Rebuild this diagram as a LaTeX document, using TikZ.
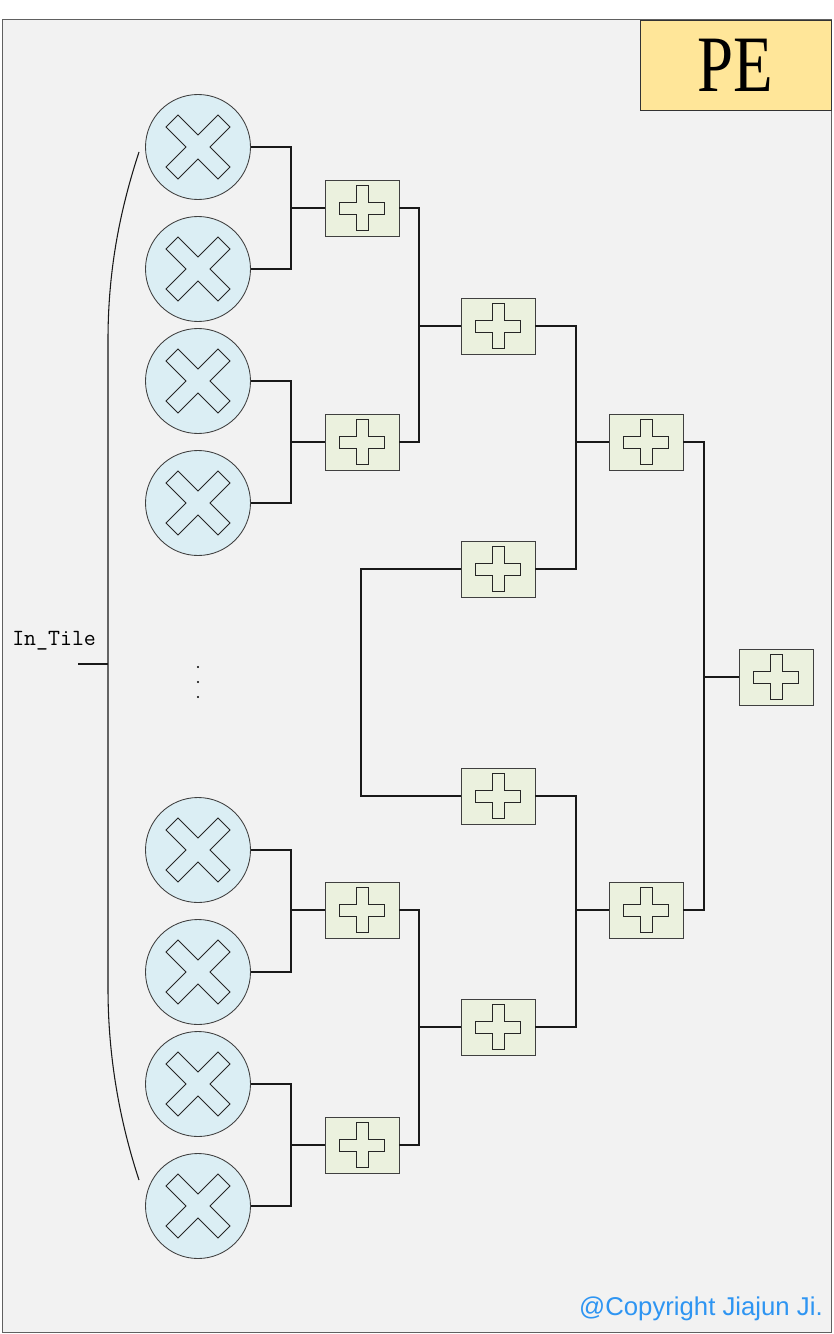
\documentclass[tikz,border=0pt]{standalone}
\usepackage{fontspec}
\usepackage{graphicx}
\newfontfamily\pefont{Liberation Serif}
\newfontfamily\cpfont{Liberation Sans}
\definecolor{bgfill}{HTML}{F2F2F2}
\definecolor{mulfill}{HTML}{DBEEF4}
\definecolor{addfill}{HTML}{EBF1DE}
\definecolor{pefill}{HTML}{FFE699}
\definecolor{cpblue}{HTML}{2E95F2}
\definecolor{framegray}{HTML}{606060}
\begin{document}
\begin{tikzpicture}[x=0.75pt,y=-0.75pt,
  mul/.style={circle, draw=black!75, fill=mulfill, line width=0.65pt, minimum size=78.75pt, inner sep=0pt},
  add/.style={rectangle, draw=black!75, fill=addfill, line width=0.65pt, minimum width=55.5pt, minimum height=42pt, inner sep=0pt},
  glyph/.style={draw=black!85, line width=0.65pt},
  wire/.style={draw=black!90, line width=0.8pt},
]
\useasboundingbox (0,0) rectangle (833,1334);
\fill[white] (0,0) rectangle (833,1334);
\draw[fill=bgfill, draw=framegray, line width=0.75pt] (2,20) rectangle (831,1332);
\node[draw=black!80, fill=pefill, line width=0.6pt, minimum width=143.25pt, minimum height=67.5pt, inner sep=0pt] (pe) at (735.5,65) {\pefont\fontsize{60}{60}\selectfont\scalebox{0.81}[1]{PE}};

% multipliers
\foreach \n/\y in {m1/147,m2/269,m3/381,m4/503,m5/850,m6/972,m7/1084,m8/1206}{
  \node[mul] (\n) at (198,\y) {};
  \draw[glyph, shift={(\n.center)}] (0,-12) -- (20,-32) -- (32,-20) -- (12,0) -- (32,20) -- (20,32) -- (0,12) -- (-20,32) -- (-32,20) -- (-12,0) -- (-32,-20) -- (-20,-32) -- cycle;
}
% adders
\foreach \n/\x/\y in {a1/362/208,a2/362/442,a3/362/910,a4/362/1145,b1/498/326,b2/498/569,b3/498/796,b4/498/1027,c1/646/442,c2/646/910,d1/776/677}{
  \node[add] (\n) at (\x,\y) {};
  \draw[glyph, shift={(\n.center)}] (-6,-22.5) -- (6,-22.5) -- (6,-6) -- (22.5,-6) -- (22.5,6) -- (6,6) -- (6,22.5) -- (-6,22.5) -- (-6,6) -- (-22.5,6) -- (-22.5,-6) -- (-6,-6) -- cycle;
}

% junctions
\coordinate (j1) at (291,208);
\coordinate (j2) at (291,442);
\coordinate (j3) at (291,910);
\coordinate (j4) at (291,1145);
\coordinate (k1) at (419,326);
\coordinate (k2) at (419,1027);
\coordinate (l1) at (576,442);
\coordinate (l2) at (576,910);
\coordinate (n1) at (704,677);
\coordinate (lp) at (361,682);

\draw[wire] (m1.east) -| (j1) |- (m2.east); \draw[wire] (j1) -- (a1.west);
\draw[wire] (m3.east) -| (j2) |- (m4.east); \draw[wire] (j2) -- (a2.west);
\draw[wire] (m5.east) -| (j3) |- (m6.east); \draw[wire] (j3) -- (a3.west);
\draw[wire] (m7.east) -| (j4) |- (m8.east); \draw[wire] (j4) -- (a4.west);
\draw[wire] (a1.east) -| (k1) |- (a2.east); \draw[wire] (k1) -- (b1.west);
\draw[wire] (a3.east) -| (k2) |- (a4.east); \draw[wire] (k2) -- (b4.west);
\draw[wire] (b1.east) -| (l1) |- (b2.east); \draw[wire] (l1) -- (c1.west);
\draw[wire] (b3.east) -| (l2) |- (b4.east); \draw[wire] (l2) -- (c2.west);
\draw[wire] (c1.east) -| (n1) |- (c2.east); \draw[wire] (n1) -- (d1.west);
\draw[wire] (b2.west) -| (lp) |- (b3.west);

% input brace
\node[font=\ttfamily\fontsize{17.4}{19}\selectfont, anchor=west, inner sep=0pt] (intile) at (12,641) {In\_Tile};
\coordinate (bt) at (139,152);
\coordinate (bb) at (139,1180);
\coordinate (bs) at (78,664);
\coordinate (bm) at (108,664);
\draw[wire] (bt) .. controls (120,210) and (108,270) .. (108,340) -- (108,988) .. controls (108,1058) and (120,1122) .. (bb);
\draw[wire] (bs) -- (bm);

% dots
\fill (198,667) circle (0.9pt);
\fill (198,682) circle (0.9pt);
\fill (198,697) circle (0.9pt);

\node[font=\cpfont\fontsize{19.3}{22}\selectfont, text=cpblue, anchor=east, inner sep=0pt] (cp) at (823,1309) {@Copyright Jiajun Ji.};
\end{tikzpicture}
\end{document}
